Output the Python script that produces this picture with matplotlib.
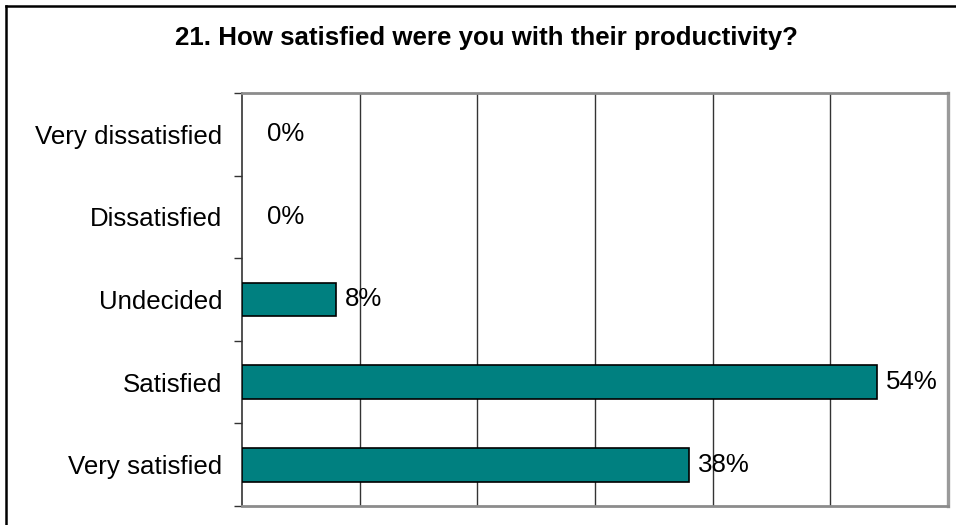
import matplotlib
matplotlib.use("Agg")
import matplotlib.pyplot as plt
from matplotlib.lines import Line2D
from matplotlib.ticker import FixedLocator, NullFormatter

# Survey responses, top row first
categories = ["Very dissatisfied", "Dissatisfied", "Undecided", "Satisfied", "Very satisfied"]
shares = [0.00, 0.00, 0.08, 0.54, 0.38]
value_labels = ["0%", "0%", "8%", "54%", "38%"]
title = "21. How satisfied were you with their productivity?"

plt.rcParams["font.family"] = ["Liberation Sans", "DejaVu Sans"]

W, H = 956, 525
fig = plt.figure(figsize=(W / 100, H / 100), dpi=100)
ax = fig.add_axes([242 / W, 1 - 506 / H, (948 - 242) / W, (506 - 93) / H])

ypos = list(range(len(categories)))
# empty bars get no outline so the axis line stays even
edge_widths = [1.2 if v > 0 else 0 for v in shares]
ax.barh(ypos, shares, height=0.41, color="#008080", edgecolor="black",
        linewidth=edge_widths, zorder=3)

ax.set_xlim(0, 0.6)
ax.set_ylim(len(categories) - 0.5, -0.5)

# vertical gridlines every 10%
ax.xaxis.set_major_locator(FixedLocator([0.1, 0.2, 0.3, 0.4, 0.5]))
ax.grid(axis="x", color="#333333", linewidth=1.0, zorder=1)
ax.tick_params(axis="x", length=0, labelbottom=False)

# category names centred, tick marks between categories
ax.set_yticks(ypos)
ax.set_yticklabels(categories, fontsize=18.6)
ax.tick_params(axis="y", which="major", length=0, pad=14)
ax.yaxis.set_minor_locator(FixedLocator([i - 0.5 for i in range(len(categories) + 1)]))
ax.yaxis.set_minor_formatter(NullFormatter())
ax.tick_params(axis="y", which="minor", length=6, width=1.0, color="#333333")

ax.spines["left"].set_color("#333333")
ax.spines["left"].set_linewidth(1.2)
for side in ["top", "bottom"]:
    ax.spines[side].set_color("#8c8c8c")
    ax.spines[side].set_linewidth(2.0)
ax.spines["right"].set_color("#9a9a9a")
ax.spines["right"].set_linewidth(2.4)

for y, v, lab in zip(ypos, shares, value_labels):
    off = 6 if v > 0 else 18
    ax.annotate(lab, xy=(v, y), xytext=(off, 0), textcoords="offset points",
                va="center", ha="left", fontsize=18.6, zorder=4)

fig.text(486 / W, 1 - 45 / H, title, ha="center", va="baseline",
         fontsize=18.6, fontweight="bold")

# frame edges around the chart area
fig.add_artist(Line2D([6 / W, 6 / W], [0, 1 - 6 / H], color="black", linewidth=1.8,
                      transform=fig.transFigure))
fig.add_artist(Line2D([6 / W, 1], [1 - 6 / H, 1 - 6 / H], color="black", linewidth=1.8,
                      transform=fig.transFigure))

fig.savefig("out.png", dpi=100)
